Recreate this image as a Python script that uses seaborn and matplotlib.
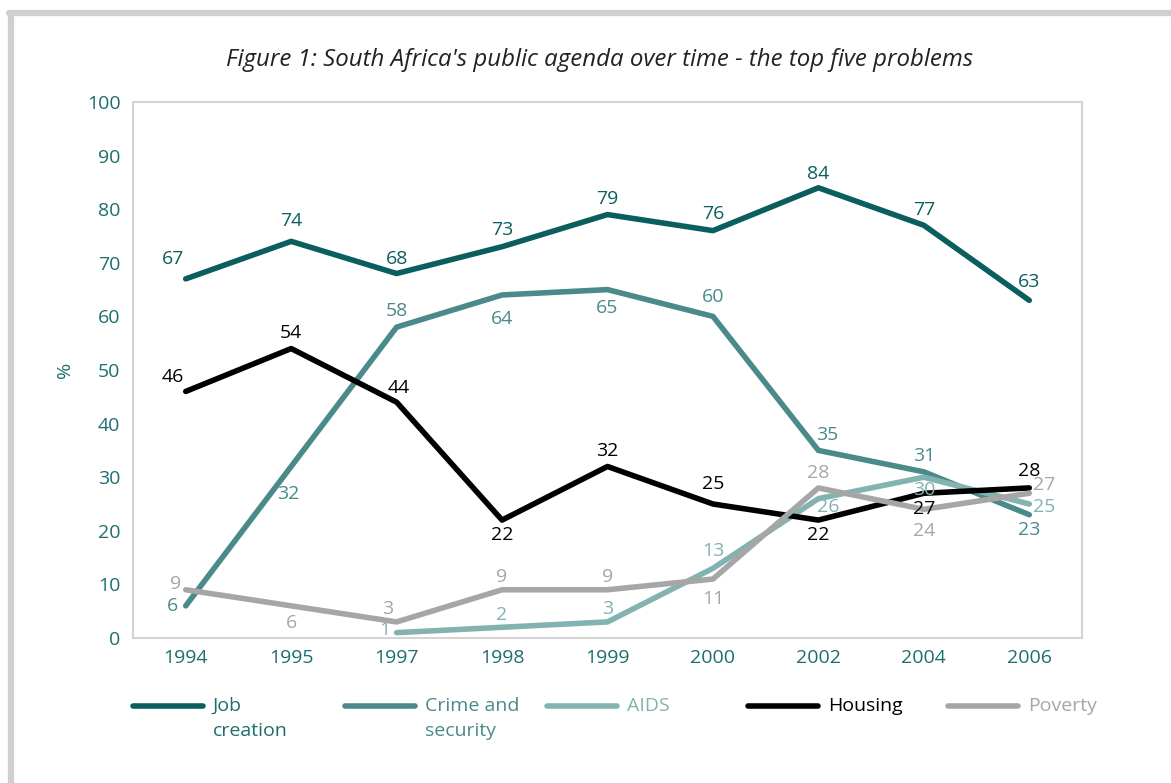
import numpy as np
import pandas as pd
import matplotlib
matplotlib.use("Agg")
import matplotlib.pyplot as plt
from matplotlib.lines import Line2D
import seaborn as sns

# data
years = ["1994", "1995", "1997", "1998", "1999", "2000", "2002", "2004", "2006"]
job_creation = [67, 74, 68, 73, 79, 76, 84, 77, 63]
crime = [6, 32, 58, 64, 65, 60, 35, 31, 23]
aids = [np.nan, np.nan, 1, 2, 3, 13, 26, 30, 25]
housing = [46, 54, 44, 22, 32, 25, 22, 27, 28]
poverty = [9, 6, 3, 9, 9, 11, 28, 24, 27]

series_names = ["Job\ncreation", "Crime and\nsecurity", "AIDS", "Housing", "Poverty"]
series_values = [job_creation, crime, aids, housing, poverty]
colors = ["#0b5e5e", "#4a8a8a", "#83b3b1", "#000000", "#a6a6a6"]
text_colors = ["#1d6e6e", "#4a8a8a", "#83b3b1", "#000000", "#a6a6a6"]

# label offsets in pixels (dx, dy) for each value
offsets = [
    [(-13, 20), (0, 20), (0, 15), (0, 17), (0, 16), (0, 17), (0, 14), (0, 15), (0, 18)],
    [(-13, 0), (-3, -28), (0, 16), (0, -24), (0, -18), (0, 19), (9, 15), (0, 16), (0, -15)],
    [None, None, (-12, 3), (0, 12), (0, 13), (0, 17), (10, -8), (0, -13), (15, -3)],
    [(-13, 14), (0, 16), (2, 14), (0, -15), (0, 15), (0, 20), (0, -15), (0, -16), (0, 17)],
    [(-10, 6), (0, -17), (-9, 13), (0, 13), (0, 13), (0, -20), (0, 15), (0, -22), (15, 8)],
]

rows = []
for name, vals in zip(series_names, series_values):
    for i, v in enumerate(vals):
        rows.append({"pos": i, "year": years[i], "value": v, "series": name})
df = pd.DataFrame(rows)

sns.set_theme(style="white")
plt.rcParams["font.family"] = ["Open Sans", "DejaVu Sans"]

teal = "#1d6e6e"
grid_gray = "#d4d4d4"
W, H = 1171, 783

fig = plt.figure(figsize=(W / 100, H / 100), dpi=100)
ax = fig.add_axes([133 / W, 1 - 638 / H, (1082 - 133) / W, (638 - 102) / H])

sns.lineplot(data=df, x="pos", y="value", hue="series", hue_order=series_names,
             palette=colors, linewidth=4, ax=ax, legend=False, sort=False)

for vals, offs, c in zip(series_values, offsets, colors):
    for i, v in enumerate(vals):
        if np.isnan(v):
            continue
        dx, dy = offs[i]
        ax.annotate(f"{int(v)}", (i, v), xytext=(dx, dy), textcoords="offset pixels",
                    ha="center", va="center", fontsize=14, color=c)

ax.set_xlim(-0.5, len(years) - 0.5)
ax.set_ylim(0, 100)
ax.set_yticks(range(0, 101, 10))
ax.set_xticks(np.arange(-0.5, len(years), 1))
ax.set_xticklabels([])
ax.set_xticks(range(len(years)), minor=True)
ax.set_xticklabels(years, minor=True)
ax.tick_params(axis="x", which="major", length=6, width=1.2, color=grid_gray, direction="out")
ax.tick_params(axis="x", which="minor", length=0, pad=8, labelsize=14, labelcolor=teal)
ax.tick_params(axis="y", length=6, width=1.2, color=grid_gray, direction="out",
               labelsize=14, labelcolor=teal, pad=3)
ax.set_xlabel("")
ax.set_ylabel("%", color=teal, fontsize=14, labelpad=9)
for sp in ax.spines.values():
    sp.set_color(grid_gray)
    sp.set_linewidth(1.5)

fig.text(600 / W, 1 - 60 / H, "Figure 1: South Africa's public agenda over time - the top five problems",
         ha="center", va="center", fontsize=17.3, style="italic", color="#222222")

# legend drawn as handle lines + labels, handles aligned with the first text line
legend_x = [133, 345, 547, 748, 948]
for lx, name, c, tc in zip(legend_x, series_names, colors, text_colors):
    fig.add_artist(Line2D([lx / W, (lx + 70) / W], [1 - 706 / H, 1 - 706 / H], color=c, linewidth=4))
    fig.text((lx + 80) / W, 1 - 697 / H, name, ha="left", va="top", fontsize=14,
             color=tc, linespacing=1.5)

# outer gray frame on left and top
fig.add_artist(Line2D([11 / W, 11 / W], [0, 1 - 13 / H], color="#cfcfcf", linewidth=4.5))
fig.add_artist(Line2D([9 / W, 1], [1 - 13 / H, 1 - 13 / H], color="#cfcfcf", linewidth=4.5))

fig.savefig("out.png", dpi=100)
